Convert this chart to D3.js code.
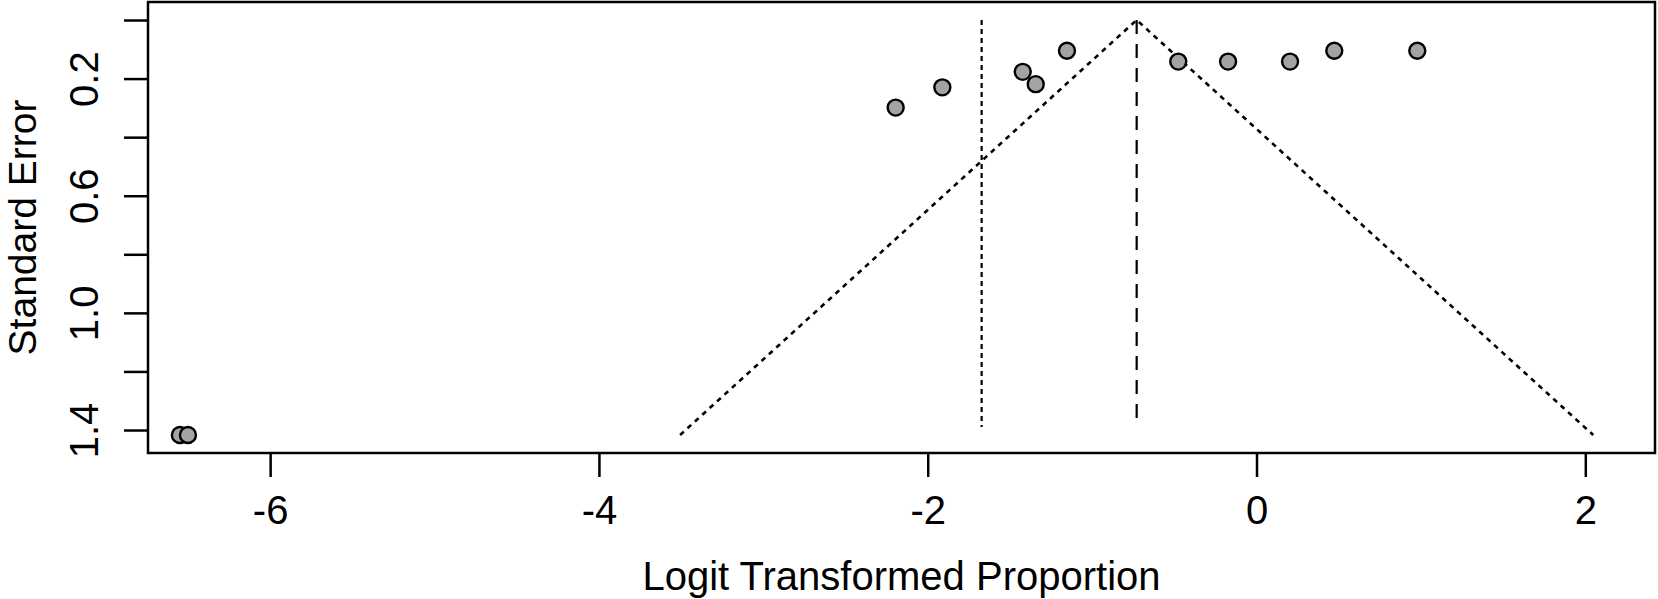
<!DOCTYPE html>
<html>
<head>
<meta charset="utf-8">
<script src="https://cdn.jsdelivr.net/npm/d3@7"></script>
<style>
  body { margin: 0; background: #fff; }
  text { font-family: "Liberation Sans", Arial, sans-serif; fill: #000; }
</style>
</head>
<body>
<svg id="viz"></svg>
<script>
// study estimates (logit proportion) and their standard errors
var estimates = [-2.195, -1.911, -1.422, -1.343, -1.153, -0.476, -0.173, 0.204, 0.473, 0.978, -6.549, -6.500];
var stdErrors = [0.299, 0.230, 0.177, 0.219, 0.105, 0.142, 0.142, 0.142, 0.105, 0.105, 1.417, 1.417];

// pooled estimate (dashed), the other reference line (dotted)
var pooled = -0.729;
var refLine = -1.672;

var xTicks = [-6, -4, -2, 0, 2];
var yTicks = [0, 0.2, 0.4, 0.6, 0.8, 1.0, 1.2, 1.4];
var yLabelled = [0.2, 0.6, 1.0, 1.4];

var width = 1658;
var height = 599;

// plot box in page pixels
var box = { left: 148, right: 1655, top: 2, bottom: 453 };

var svg = d3.select('#viz')
            .attr('width', width)
            .attr('height', height);

var xScale = d3.scaleLinear()
               .domain([-6.743, 2.424])
               .range([box.left, box.right]);

// standard error runs downward, 0 at the top
var yScale = d3.scaleLinear()
               .domain([-0.0615, 1.4785])
               .range([box.top, box.bottom]);

var seMax = d3.max(stdErrors);

// funnel: pooled +/- 1.96 * se
var funnel = [
    [pooled - 1.96 * seMax, seMax],
    [pooled, 0],
    [pooled + 1.96 * seMax, seMax]
];

var line = d3.line()
             .x(d => xScale(d[0]))
             .y(d => yScale(d[1]));

svg.append('path')
   .datum(funnel)
   .attr('d', line)
   .attr('fill', 'none')
   .attr('stroke', '#000')
   .attr('stroke-width', 2.6)
   .attr('stroke-dasharray', '5,5');

svg.append('line')
   .attr('x1', xScale(refLine)).attr('x2', xScale(refLine))
   .attr('y1', yScale(0)).attr('y2', yScale(1.39))
   .attr('stroke', '#000')
   .attr('stroke-width', 2.2)
   .attr('stroke-dasharray', '5,4');

svg.append('line')
   .attr('x1', xScale(pooled)).attr('x2', xScale(pooled))
   .attr('y1', yScale(0)).attr('y2', yScale(1.39))
   .attr('stroke', '#000')
   .attr('stroke-width', 2.2)
   .attr('stroke-dasharray', '14,10');

// points
svg.selectAll('circle.study')
   .data(estimates)
   .enter()
   .append('circle')
   .attr('class', 'study')
   .attr('cx', d => xScale(d))
   .attr('cy', (d, i) => yScale(stdErrors[i]))
   .attr('r', 8)
   .attr('fill', '#a3a3a3')
   .attr('stroke', '#000')
   .attr('stroke-width', 2.4);

// box
svg.append('rect')
   .attr('x', box.left)
   .attr('y', box.top)
   .attr('width', box.right - box.left)
   .attr('height', box.bottom - box.top)
   .attr('fill', 'none')
   .attr('stroke', '#000')
   .attr('stroke-width', 2.5);

// x axis
var xAxis = d3.axisBottom(xScale)
              .tickValues(xTicks)
              .tickSize(24)
              .tickSizeOuter(0)
              .tickFormat(d3.format('d'));

var gx = svg.append('g')
            .attr('transform', `translate(0, ${box.bottom})`)
            .call(xAxis);
gx.select('.domain').remove();
gx.selectAll('.tick line').attr('stroke', '#000').attr('stroke-width', 2.5);
gx.selectAll('.tick text')
  .attr('y', 71)
  .attr('dy', 0)
  .style('font-size', '40px')
  .text(d => d < 0 ? '-' + Math.abs(d) : d);

// y axis
var yAxis = d3.axisLeft(yScale)
              .tickValues(yTicks)
              .tickSize(24)
              .tickSizeOuter(0)
              .tickFormat(d => yLabelled.some(v => Math.abs(v - d) < 1e-9) ? d3.format('.1f')(d) : '');

var gy = svg.append('g')
            .attr('transform', `translate(${box.left}, 0)`)
            .call(yAxis);
gy.select('.domain').remove();
gy.selectAll('.tick line').attr('stroke', '#000').attr('stroke-width', 2.5);
gy.selectAll('.tick text')
  .attr('x', null)
  .attr('dy', 0)
  .attr('text-anchor', 'middle')
  .attr('transform', 'translate(-50, 0) rotate(-90)')
  .style('font-size', '40px');

// titles
svg.append('text')
   .attr('x', (box.left + box.right) / 2)
   .attr('y', 590)
   .attr('text-anchor', 'middle')
   .style('font-size', '40px')
   .text('Logit Transformed Proportion');

svg.append('text')
   .attr('transform', `translate(36, ${(box.top + box.bottom) / 2}) rotate(-90)`)
   .attr('text-anchor', 'middle')
   .style('font-size', '39px')
   .text('Standard Error');
</script>
</body>
</html>
